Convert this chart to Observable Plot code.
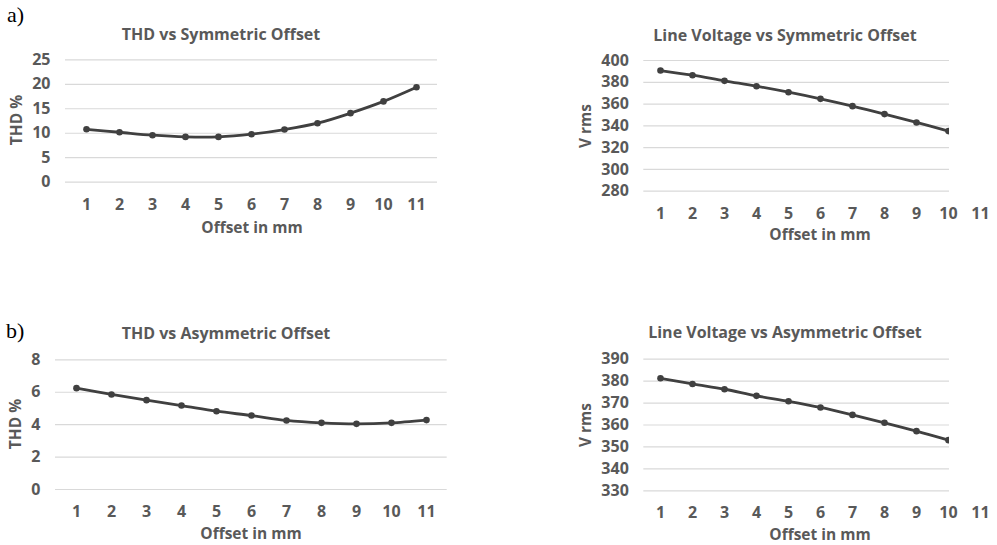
<!DOCTYPE html>
<html>
<head>
<meta charset="utf-8">
<script src="https://cdn.jsdelivr.net/npm/d3@7"></script>
<script src="https://cdn.jsdelivr.net/npm/@observablehq/plot@0.6"></script>
<style>
  html, body { margin: 0; padding: 0; background: #fff; }
  #root { position: relative; width: 997px; height: 545px; background: #fff; overflow: hidden; }
  .panel { position: absolute; }
  .t { position: absolute; white-space: nowrap; line-height: 1; color: #595959;
       font-family: "Open Sans", Lato, sans-serif; font-weight: 700; transform: translate(-50%, -50%); }
  .rot { transform: translate(-50%, -50%) rotate(-90deg); }
  .letter { position: absolute; font-family: "Liberation Serif", serif; font-size: 22px; line-height: 22px; color: #000; }
</style>
</head>
<body>
<div id="root"></div>
<script>
// ---- data ----
const offsets = [1, 2, 3, 4, 5, 6, 7, 8, 9, 10, 11];
const thdSym = [10.8, 10.2, 9.6, 9.25, 9.25, 9.8, 10.75, 12.05, 14.1, 16.5, 19.4];
const vSym = [390.8, 386.5, 381.3, 376.4, 370.9, 364.8, 358.1, 350.8, 343.1, 335.2];
const thdAsym = [6.25, 5.86, 5.51, 5.18, 4.83, 4.56, 4.26, 4.11, 4.05, 4.11, 4.28];
const vAsym = [381.3, 378.7, 376.3, 373.3, 370.8, 368.0, 364.6, 361.0, 357.2, 353.1];
const thdSymTicks = [0, 5, 10, 15, 20, 25];
const vSymTicks = [280, 300, 320, 340, 360, 380, 400];
const thdAsymTicks = [0, 2, 4, 6, 8];
const vAsymTicks = [330, 340, 350, 360, 370, 380, 390];
const titles = ["THD vs Symmetric Offset", "Line Voltage vs Symmetric Offset",
                "THD vs Asymmetric Offset", "Line Voltage vs Asymmetric Offset"];
const xLabel = "Offset in mm";
const yLabels = ["THD %", "V rms"];

const root = document.getElementById("root");
const LINE = "#404040";

function panel(cfg) {
  const data = cfg.values.map((v, i) => ({x: offsets[i], y: v}));
  const {left, top, width, height, mt, mb, ml, mr} = cfg;
  let xOpts = {type: "point", domain: offsets, tickSize: 0, tickPadding: 16, label: null};
  if (cfg.overflow) {
    // points continue past the clipped plot frame (value 11 lies outside)
    const fl = ml, fr = width - mr;
    const step = (fr - fl) / (cfg.values.length - 0.5);
    xOpts.range = [fl + step / 2, fl + step / 2 + step * (offsets.length - 1)];
    xOpts.padding = 0;
  } else {
    xOpts.padding = 0.5;
  }
  const chart = Plot.plot({
    width, height,
    marginTop: mt, marginBottom: mb, marginLeft: ml, marginRight: mr,
    style: {fontFamily: "'Open Sans', Lato, sans-serif", fontSize: "16px", fontWeight: 700, color: "#595959", background: "transparent", overflow: "visible"},
    x: xOpts,
    y: {domain: [cfg.ticks[0], cfg.ticks[cfg.ticks.length - 1]], ticks: cfg.ticks, tickSize: 0, tickPadding: 15, label: null},
    marks: [
      Plot.ruleY(cfg.ticks, {stroke: "#d9d9d9", strokeWidth: 1.2}),
      Plot.line(data, {x: "x", y: "y", stroke: LINE, strokeWidth: 2.8, curve: "catmull-rom", clip: true}),
      Plot.dot(data, {x: "x", y: "y", r: 3.3, fill: LINE, stroke: "none", clip: true})
    ]
  });
  const wrap = document.createElement("div");
  wrap.className = "panel";
  wrap.style.left = left + "px";
  wrap.style.top = top + "px";
  wrap.appendChild(chart);
  root.appendChild(wrap);
}

function text(str, x, y, size, cls) {
  const d = document.createElement("div");
  d.className = "t" + (cls ? " " + cls : "");
  d.textContent = str;
  d.style.left = x + "px";
  d.style.top = y + "px";
  d.style.fontSize = size + "px";
  root.appendChild(d);
}

panel({values: thdSym, ticks: thdSymTicks, left: 0, top: 0, width: 480, height: 270, mt: 59.3, mb: 88.3, ml: 65, mr: 43});
panel({values: vSym, ticks: vSymTicks, left: 480, top: 0, width: 517, height: 270, mt: 60, mb: 79.3, ml: 163.3, mr: 48, overflow: true});
panel({values: thdAsym, ticks: thdAsymTicks, left: 0, top: 270, width: 480, height: 275, mt: 89.3, mb: 56, ml: 55, mr: 33.3});
panel({values: vAsym, ticks: vAsymTicks, left: 480, top: 270, width: 517, height: 275, mt: 88.7, mb: 54.7, ml: 163.3, mr: 48, overflow: true});

// titles
text(titles[0], 221, 34, 16);
text(titles[1], 785, 35, 16);
text(titles[2], 226, 333, 16);
text(titles[3], 785, 332, 16);
// axis labels
text(yLabels[0], 17, 120, 15.5, "rot");
text(yLabels[1], 586, 126, 15.5, "rot");
text(yLabels[0], 16, 424, 15.5, "rot");
text(yLabels[1], 586, 425, 15.5, "rot");
text(xLabel, 252, 228, 15.5);
text(xLabel, 820, 235, 15.5);
text(xLabel, 251, 534, 15.5);
text(xLabel, 820, 535, 15.5);
// panel letters
const la = document.createElement("div"); la.className = "letter"; la.textContent = "a)";
la.style.left = "7px"; la.style.top = "4px"; root.appendChild(la);
const lb = document.createElement("div"); lb.className = "letter"; lb.textContent = "b)";
lb.style.left = "6px"; lb.style.top = "320px"; root.appendChild(lb);
</script>
</body>
</html>
